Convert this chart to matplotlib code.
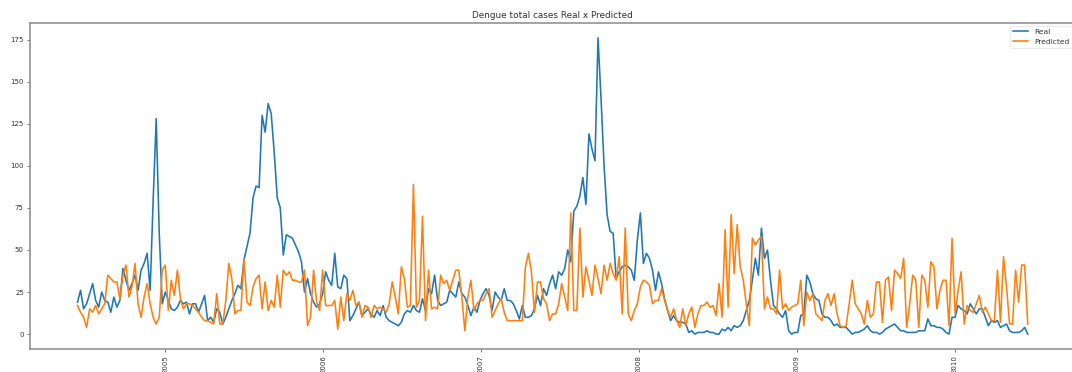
import numpy as np
import pandas as pd
import matplotlib
matplotlib.use('Agg')
import matplotlib.pyplot as plt
import matplotlib.dates as mdates

# weekly totals, Jun 2004 .. Jun 2010
START = '2004-06-12'

real_cases = [
    19, 26, 15, 18, 24, 30, 20, 16, 25, 20, 19, 13, 22, 16, 20, 39, 32, 26, 30, 35,
    26, 38, 42, 48, 26, 80, 128, 60, 18, 25, 20, 15, 14, 16, 20, 18, 19, 12, 18, 18,
    13, 18, 23, 8, 10, 7, 15, 13, 6, 10, 15, 20, 24, 29, 27, 44, 52, 60, 81, 88,
    87, 130, 120, 137, 131, 108, 81, 75, 47, 59, 58, 57, 53, 49, 43, 25, 33, 24, 19, 16,
    18, 24, 37, 32, 29, 48, 28, 27, 35, 33, 8, 11, 15, 19, 11, 13, 15, 12, 10, 14,
    11, 17, 10, 8, 7, 6, 5, 7, 12, 14, 13, 17, 14, 13, 21, 14, 27, 24, 35, 20,
    17, 18, 19, 26, 24, 22, 31, 24, 22, 17, 11, 16, 13, 20, 24, 27, 23, 14, 25, 22,
    20, 27, 20, 20, 18, 14, 9, 17, 10, 10, 11, 15, 23, 17, 27, 23, 30, 35, 27, 37,
    35, 39, 50, 43, 73, 76, 82, 93, 77, 119, 110, 103, 176, 140, 100, 71, 61, 60, 33, 37,
    40, 41, 40, 38, 32, 56, 72, 42, 48, 45, 38, 26, 37, 30, 21, 14, 8, 11, 8, 7,
    7, 6, 1, 2, 0, 1, 1, 1, 2, 1, 1, 0, 0, 3, 2, 4, 2, 5, 4, 5,
    8, 14, 20, 32, 45, 35, 63, 45, 50, 32, 17, 15, 12, 10, 14, 2, 0, 1, 1, 11,
    12, 35, 31, 24, 21, 20, 12, 10, 10, 8, 5, 6, 4, 4, 4, 2, 0, 1, 1, 2,
    3, 5, 2, 1, 1, 0, 1, 3, 4, 5, 6, 4, 2, 2, 1, 1, 1, 1, 2, 2,
    2, 9, 5, 5, 4, 4, 3, 1, 0, 10, 10, 17, 15, 14, 12, 18, 15, 12, 15, 15,
    10, 5, 8, 7, 8, 4, 5, 6, 2, 1, 1, 1, 2, 4, 0,
]

predicted_cases = [
    17, 13, 10, 4, 15, 13, 17, 12, 15, 18, 35, 33, 31, 31, 21, 35, 41, 22, 28, 42,
    18, 10, 22, 30, 18, 10, 6, 10, 38, 41, 14, 32, 23, 38, 21, 15, 18, 18, 17, 15,
    13, 10, 8, 8, 7, 6, 24, 6, 6, 20, 42, 33, 12, 14, 14, 45, 19, 17, 28, 33,
    35, 15, 31, 14, 20, 16, 35, 16, 38, 35, 37, 32, 32, 31, 31, 38, 5, 10, 38, 19,
    14, 38, 17, 17, 17, 20, 3, 22, 8, 24, 20, 26, 17, 19, 10, 17, 16, 10, 17, 15,
    16, 15, 13, 18, 31, 22, 12, 40, 33, 16, 17, 89, 16, 20, 70, 8, 38, 15, 16, 15,
    35, 30, 32, 26, 32, 38, 38, 22, 2, 22, 32, 14, 18, 20, 20, 24, 27, 10, 14, 18,
    21, 13, 8, 8, 8, 8, 8, 8, 40, 48, 37, 13, 31, 31, 21, 18, 8, 12, 12, 18,
    30, 22, 14, 72, 14, 14, 63, 22, 40, 32, 23, 41, 33, 24, 41, 32, 42, 36, 32, 46,
    12, 63, 12, 8, 14, 18, 28, 32, 31, 29, 18, 20, 20, 27, 20, 14, 10, 15, 8, 4,
    15, 5, 12, 16, 4, 12, 17, 17, 19, 16, 17, 11, 30, 10, 62, 16, 71, 36, 65, 40,
    32, 18, 5, 57, 53, 56, 58, 15, 22, 15, 15, 12, 38, 15, 18, 14, 16, 17, 18, 32,
    5, 25, 20, 24, 12, 10, 8, 20, 24, 17, 24, 12, 5, 4, 5, 18, 32, 18, 15, 12,
    6, 20, 10, 12, 31, 31, 7, 32, 34, 14, 38, 36, 33, 45, 4, 18, 35, 32, 4, 35,
    32, 16, 43, 40, 15, 26, 32, 32, 5, 57, 12, 26, 37, 6, 17, 14, 13, 18, 23, 13,
    16, 12, 8, 8, 38, 7, 46, 28, 6, 6, 38, 19, 41, 41, 6,
]

dates = pd.date_range(START, periods=len(real_cases), freq='7D')

plt.rcParams['font.family'] = 'DejaVu Sans'
TXT = '#333333'

fig = plt.figure(figsize=(10.72, 3.72), dpi=100)
ax = fig.add_axes([0.028, 0.062, 0.975, 0.876])

ax.plot(dates, real_cases, color='#1f77b4', linewidth=1.15, label='Real')
ax.plot(dates, predicted_cases, color='#ff7f0e', linewidth=1.15, label='Predicted')

ax.set_title('Dengue total cases Real x Predicted', fontsize=6.4, color=TXT, pad=4)
ax.xaxis.set_major_locator(mdates.YearLocator())
ax.xaxis.set_major_formatter(mdates.DateFormatter('%Y'))
ax.set_yticks([0, 25, 50, 75, 100, 125, 150, 175])
ax.tick_params(axis='both', labelsize=5.0, labelcolor=TXT, color='#666666',
               length=2.5, width=0.6, pad=2)
plt.setp(ax.get_xticklabels(), rotation=90)

for sp in ax.spines.values():
    sp.set_color('#8a8a8a')
    sp.set_linewidth(1.1)

leg = ax.legend(loc='upper right', fontsize=5.4, frameon=True, fancybox=True,
                borderaxespad=0.35)
leg.get_frame().set_linewidth(0.5)
leg.get_frame().set_edgecolor('#dddddd')
for t in leg.get_texts():
    t.set_color(TXT)

fig.savefig('out.png', dpi=100)
